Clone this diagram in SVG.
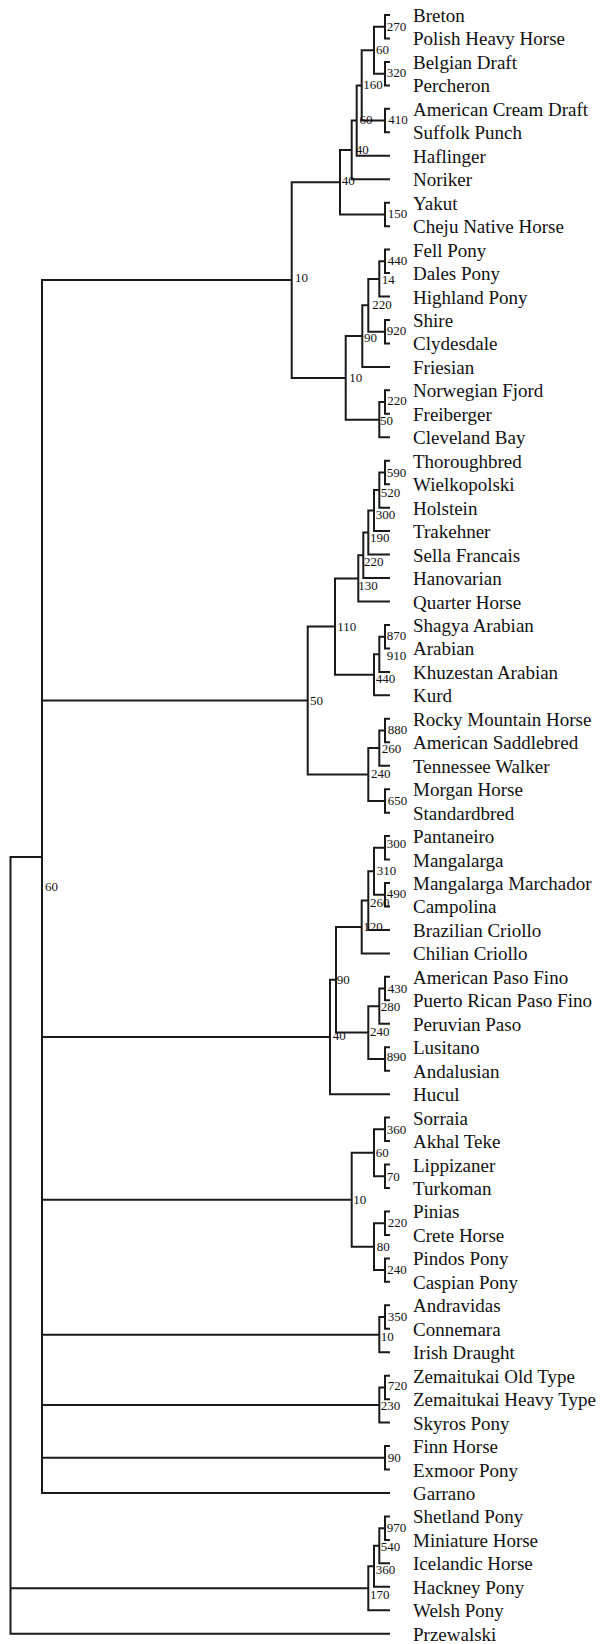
<svg xmlns="http://www.w3.org/2000/svg" width="602" height="1644" viewBox="0 0 602 1644">
<style>
.e{fill:none;stroke:#1a1a1a;stroke-width:2;stroke-linejoin:miter}
.t{font-family:"Liberation Serif","Times New Roman",serif;font-size:19px;fill:#111}
.n{font-family:"Liberation Serif","Times New Roman",serif;font-size:13px;fill:#111}
</style>
<rect width="602" height="1644" fill="#fff"/>
<g id="connectors" class="e">
<path d="M390,15H385V38.46H390M390,61.92H385V85.38H390M385,26.73H374V73.65H385M390,108.84H385V132.3H390M374,50.19H361.7V120.57H385M361.7,85.38H356.7V155.76H390M356.7,120.57H351.7V179.22H390M390,202.68H385V226.14H390M351.7,149.9H340V214.41H385"/>
<path d="M390,249.6H385V273.06H390M385,261.33H379.3V296.52H390M390,319.98H385V343.44H390M379.3,278.93H368.3V331.71H385M368.3,305.32H362.3V366.9H390M390,390.36H385V413.82H390M385,402.09H379.3V437.28H390M362.3,336.11H345.7V419.69H379.3M340,182.15H291.7V377.9H345.7"/>
<path d="M390,460.74H385V484.2H390M385,472.47H379.3V507.66H390M379.3,490.07H374V531.12H390M374,510.6H368.3V554.58H390M368.3,532.59H363.3V578.04H390M363.3,555.31H358.3V601.5H390M390,624.96H385V648.42H390M385,636.69H379.3V671.88H390M379.3,654.28H374V695.34H390M358.3,578.41H335V674.81H374M390,718.8H385V742.26H390M385,730.53H379.3V765.72H390M390,789.18H385V812.64H390M379.3,748.12H368.3V800.91H385M335,626.61H307.7V774.52H368.3"/>
<path d="M390,836.1H385V859.56H390M390,883.02H385V906.48H390M385,847.83H374V894.75H385M374,871.29H368.3V929.94H390M368.3,900.62H361.7V953.4H390M390,976.86H385V1000.32H390M385,988.59H379.3V1023.78H390M390,1047.24H385V1070.7H390M379.3,1006.19H368.3V1058.97H385M361.7,927.01H336V1032.58H368.3M336,979.8H330V1094.16H390"/>
<path d="M390,1117.62H385V1141.08H390M390,1164.54H385V1188H390M385,1129.35H374V1176.27H385M390,1211.46H385V1234.92H390M390,1258.38H385V1281.84H390M385,1223.19H374V1270.11H385M374,1152.81H351.7V1246.65H374"/>
<path d="M390,1305.3H385V1328.76H390M385,1317.03H379.3V1352.22H390M390,1375.68H385V1399.14H390M385,1387.41H379.3V1422.6H390M390,1446.06H385V1469.52H390"/>
<path d="M291.7,280.02H42V1492.98H390M42,700.56H307.7M42,1036.98H330M42,1199.73H351.7M42,1334.63H379.3M42,1405H379.3M42,1457.79H385"/>
<path d="M390,1516.44H385V1539.9H390M385,1528.17H379.3V1563.36H390M379.3,1545.77H374V1586.82H390M374,1566.3H368.3V1610.28H390"/>
<path d="M42,857H10.5V1633.74H390M10.5,1588.29H368.3"/>
</g>
<g id="leaves" class="t">
<text id="leaf-breton" x="413" y="22">Breton</text>
<text id="leaf-polish" x="413" y="45.46">Polish Heavy Horse</text>
<text id="leaf-belgian" x="413" y="68.92">Belgian Draft</text>
<text id="leaf-percheron" x="413" y="92.38">Percheron</text>
<text id="leaf-acd" x="413" y="115.84">American Cream Draft</text>
<text id="leaf-suffolk" x="413" y="139.3">Suffolk Punch</text>
<text id="leaf-haflinger" x="413" y="162.76">Haflinger</text>
<text id="leaf-noriker" x="413" y="186.22">Noriker</text>
<text id="leaf-yakut" x="413" y="209.68">Yakut</text>
<text id="leaf-cheju" x="413" y="233.14">Cheju Native Horse</text>
<text id="leaf-fell" x="413" y="256.6">Fell Pony</text>
<text id="leaf-dales" x="413" y="280.06">Dales Pony</text>
<text id="leaf-highland" x="413" y="303.52">Highland Pony</text>
<text id="leaf-shire" x="413" y="326.98">Shire</text>
<text id="leaf-clydesdale" x="413" y="350.44">Clydesdale</text>
<text id="leaf-friesian" x="413" y="373.9">Friesian</text>
<text id="leaf-fjord" x="413" y="397.36">Norwegian Fjord</text>
<text id="leaf-freiberger" x="413" y="420.82">Freiberger</text>
<text id="leaf-cleveland" x="413" y="444.28">Cleveland Bay</text>
<text id="leaf-thoroughbred" x="413" y="467.74">Thoroughbred</text>
<text id="leaf-wielkopolski" x="413" y="491.2">Wielkopolski</text>
<text id="leaf-holstein" x="413" y="514.66">Holstein</text>
<text id="leaf-trakehner" x="413" y="538.12">Trakehner</text>
<text id="leaf-sella" x="413" y="561.58">Sella Francais</text>
<text id="leaf-hanovarian" x="413" y="585.04">Hanovarian</text>
<text id="leaf-quarter" x="413" y="608.5">Quarter Horse</text>
<text id="leaf-shagya" x="413" y="631.96">Shagya Arabian</text>
<text id="leaf-arabian" x="413" y="655.42">Arabian</text>
<text id="leaf-khuzestan" x="413" y="678.88">Khuzestan Arabian</text>
<text id="leaf-kurd" x="413" y="702.34">Kurd</text>
<text id="leaf-rocky" x="413" y="725.8">Rocky Mountain Horse</text>
<text id="leaf-saddlebred" x="413" y="749.26">American Saddlebred</text>
<text id="leaf-tennessee" x="413" y="772.72">Tennessee Walker</text>
<text id="leaf-morgan" x="413" y="796.18">Morgan Horse</text>
<text id="leaf-standardbred" x="413" y="819.64">Standardbred</text>
<text id="leaf-pantaneiro" x="413" y="843.1">Pantaneiro</text>
<text id="leaf-mangalarga" x="413" y="866.56">Mangalarga</text>
<text id="leaf-marchador" x="413" y="890.02">Mangalarga Marchador</text>
<text id="leaf-campolina" x="413" y="913.48">Campolina</text>
<text id="leaf-brazcriollo" x="413" y="936.94">Brazilian Criollo</text>
<text id="leaf-chilcriollo" x="413" y="960.4">Chilian Criollo</text>
<text id="leaf-apf" x="413" y="983.86">American Paso Fino</text>
<text id="leaf-prpf" x="413" y="1007.32">Puerto Rican Paso Fino</text>
<text id="leaf-peruvian" x="413" y="1030.78">Peruvian Paso</text>
<text id="leaf-lusitano" x="413" y="1054.24">Lusitano</text>
<text id="leaf-andalusian" x="413" y="1077.7">Andalusian</text>
<text id="leaf-hucul" x="413" y="1101.16">Hucul</text>
<text id="leaf-sorraia" x="413" y="1124.62">Sorraia</text>
<text id="leaf-akhal" x="413" y="1148.08">Akhal Teke</text>
<text id="leaf-lippizaner" x="413" y="1171.54">Lippizaner</text>
<text id="leaf-turkoman" x="413" y="1195">Turkoman</text>
<text id="leaf-pinias" x="413" y="1218.46">Pinias</text>
<text id="leaf-crete" x="413" y="1241.92">Crete Horse</text>
<text id="leaf-pindos" x="413" y="1265.38">Pindos Pony</text>
<text id="leaf-caspian" x="413" y="1288.84">Caspian Pony</text>
<text id="leaf-andravidas" x="413" y="1312.3">Andravidas</text>
<text id="leaf-connemara" x="413" y="1335.76">Connemara</text>
<text id="leaf-irish" x="413" y="1359.22">Irish Draught</text>
<text id="leaf-zem-old" x="413" y="1382.68">Zemaitukai Old Type</text>
<text id="leaf-zem-heavy" x="413" y="1406.14">Zemaitukai Heavy Type</text>
<text id="leaf-skyros" x="413" y="1429.6">Skyros Pony</text>
<text id="leaf-finn" x="413" y="1453.06">Finn Horse</text>
<text id="leaf-exmoor" x="413" y="1476.52">Exmoor Pony</text>
<text id="leaf-garrano" x="413" y="1499.98">Garrano</text>
<text id="leaf-shetland" x="413" y="1523.44">Shetland Pony</text>
<text id="leaf-miniature" x="413" y="1546.9">Miniature Horse</text>
<text id="leaf-icelandic" x="413" y="1570.36">Icelandic Horse</text>
<text id="leaf-hackney" x="413" y="1593.82">Hackney Pony</text>
<text id="leaf-welsh" x="413" y="1617.28">Welsh Pony</text>
<text id="leaf-przewalski" x="413" y="1640.74">Przewalski</text>
</g>
<g id="node-labels" class="n">
<text x="386.7" y="30.5">270</text>
<text x="376" y="53.5">60</text>
<text x="386.7" y="77.2">320</text>
<text x="363.3" y="88.8">160</text>
<text x="359.5" y="123.5">60</text>
<text x="388.3" y="123.5">410</text>
<text x="355.7" y="153.8">40</text>
<text x="341.7" y="184.8">40</text>
<text x="387.7" y="217.5">150</text>
<text x="387.7" y="264.8">440</text>
<text x="295" y="281.5">10</text>
<text x="381.7" y="284.2">14</text>
<text x="372.3" y="309.2">220</text>
<text x="386.7" y="335.2">920</text>
<text x="364" y="341.8">90</text>
<text x="349.3" y="381.8">10</text>
<text x="387.3" y="405.2">220</text>
<text x="380" y="424.8">50</text>
<text x="386.7" y="476.5">590</text>
<text x="380.7" y="496.5">520</text>
<text x="375.7" y="518.8">300</text>
<text x="370" y="541.5">190</text>
<text x="364" y="565.8">220</text>
<text x="358.3" y="589.8">130</text>
<text x="337.3" y="630.8">110</text>
<text x="386.7" y="640.2">870</text>
<text x="386.7" y="659.8">910</text>
<text x="375.7" y="683.2">440</text>
<text x="310" y="705.2">50</text>
<text x="387.7" y="733.8">880</text>
<text x="381.7" y="752.8">260</text>
<text x="371" y="777.8">240</text>
<text x="387.7" y="804.5">650</text>
<text x="386.7" y="848.2">300</text>
<text x="376.7" y="874.8">310</text>
<text x="386.7" y="898.2">490</text>
<text x="370" y="906.5">260</text>
<text x="363.3" y="930.5">120</text>
<text x="336.7" y="984.2">90</text>
<text x="387.7" y="992.8">430</text>
<text x="380.7" y="1011.2">280</text>
<text x="370" y="1036.2">240</text>
<text x="332.7" y="1040.2">40</text>
<text x="386.7" y="1061.2">890</text>
<text x="386.7" y="1133.8">360</text>
<text x="375.7" y="1157.2">60</text>
<text x="386.7" y="1180.5">70</text>
<text x="353.3" y="1203.8">10</text>
<text x="387.7" y="1226.5">220</text>
<text x="376.7" y="1250.8">80</text>
<text x="387.3" y="1274.2">240</text>
<text x="387.7" y="1320.8">350</text>
<text x="380.7" y="1340.8">10</text>
<text x="387.7" y="1389.5">720</text>
<text x="380.7" y="1409.5">230</text>
<text x="387.7" y="1461.8">90</text>
<text x="386.7" y="1532.2">970</text>
<text x="380.7" y="1550.8">540</text>
<text x="375.7" y="1574.2">360</text>
<text x="370" y="1598.8">170</text>
<text x="45" y="890.5">60</text>
</g>
</svg>
